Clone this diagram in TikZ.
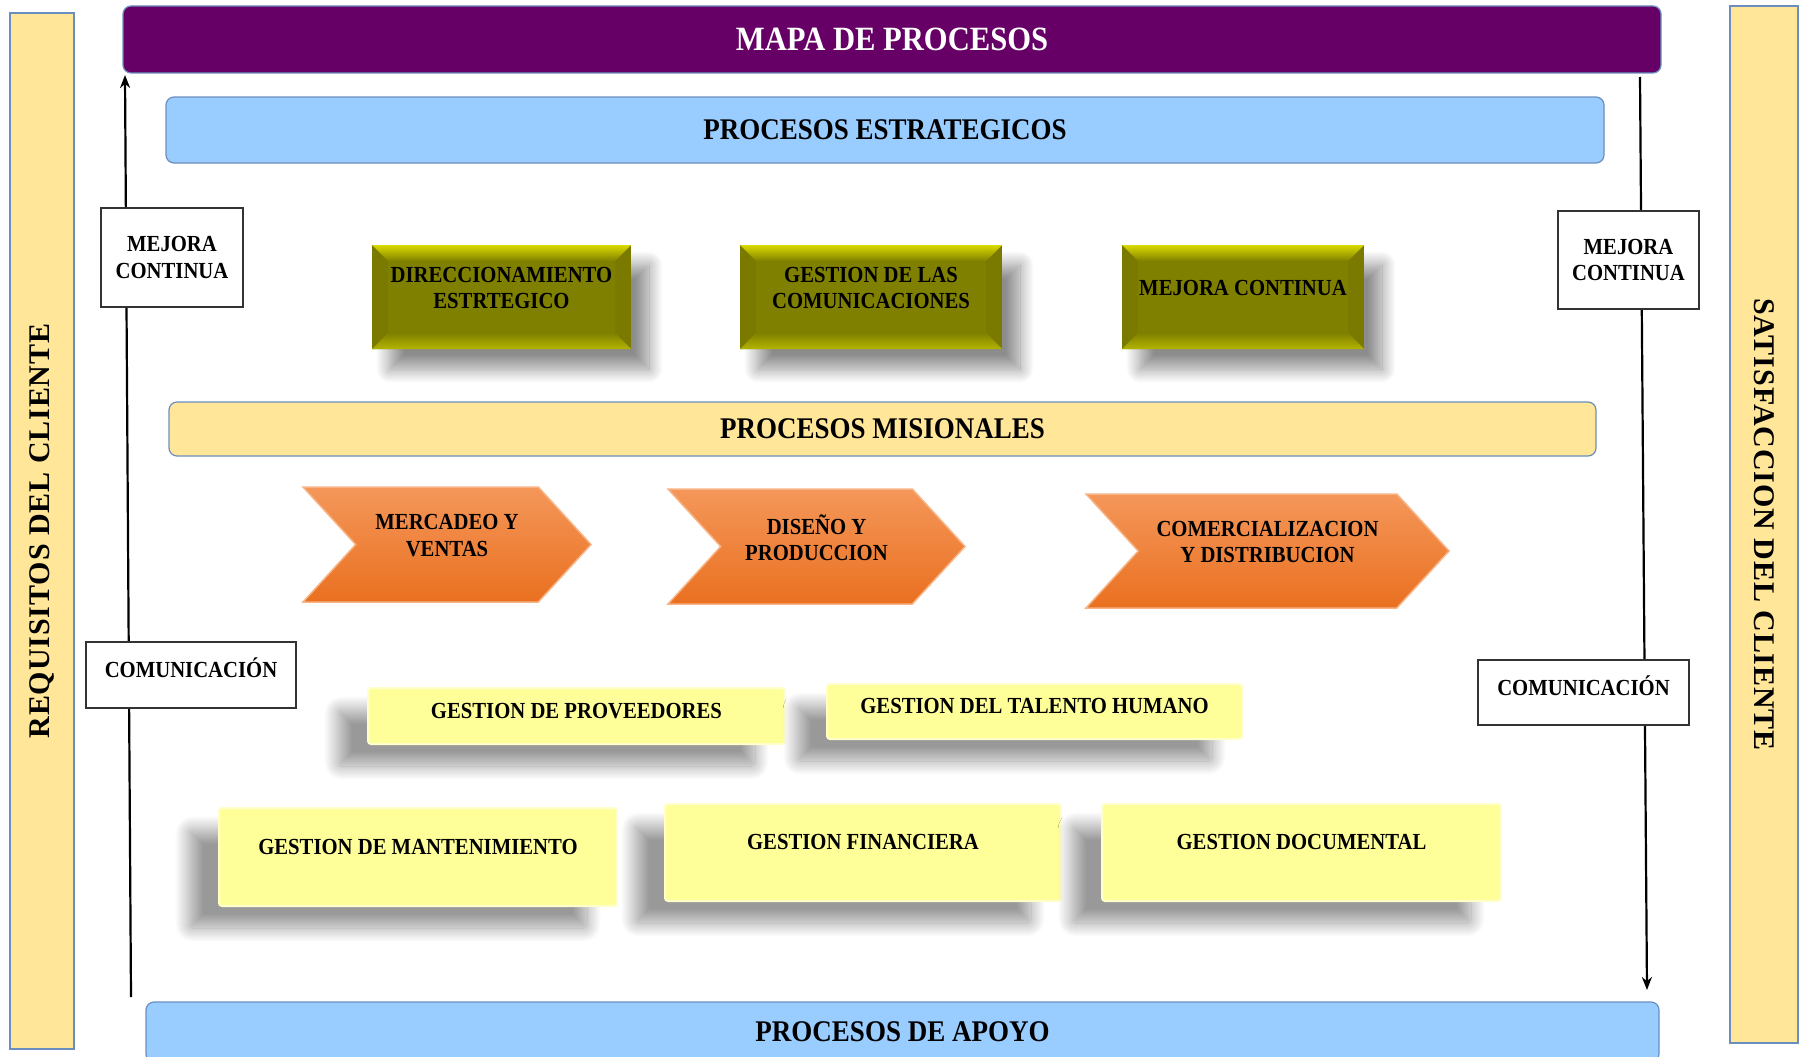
\documentclass[tikz,border=0pt]{standalone}
\usepackage{fontspec}
\setmainfont{Liberation Serif}[FakeStretch=0.9]
\newfontfamily\sidefont{Liberation Serif}[LetterSpace=3]
\usepackage{tikz}
\usetikzlibrary{arrows.meta, shapes.symbols, shadows.blur}

\definecolor{mapapurple}{HTML}{660066}
\definecolor{framecol}{HTML}{6C8EBF}
\definecolor{barblue}{HTML}{99CCFF}
\definecolor{baryellow}{HTML}{FFE699}
\definecolor{olivefill}{HTML}{808000}
\definecolor{olivetop}{HTML}{DADA00}
\definecolor{olivebot}{HTML}{B4B400}
\definecolor{oliveside}{HTML}{7A7A00}
\definecolor{orangetop}{HTML}{F4975A}
\definecolor{orangebot}{HTML}{EA7020}
\definecolor{orangeedge}{HTML}{F7B383}
\definecolor{supportfill}{HTML}{FFFF99}
\definecolor{supportedge}{HTML}{FFFFCC}

\begin{document}
\begin{tikzpicture}[
  x=1pt, y=-1pt,
  bar/.style={rectangle, draw=framecol, line width=1.2pt, rounded corners=8pt,
              font=\bfseries\fontsize{30}{32}\selectfont},
  sidebar/.style={rectangle, draw=framecol, fill=baryellow, line width=1.2pt,
                  font=\sidefont\bfseries\fontsize{30}{32}\selectfont},
  notebox/.style={rectangle, draw=black!80, fill=white, line width=1.2pt,
                  align=center, font=\bfseries\fontsize{23}{26.5}\selectfont},
  olivebox/.style={rectangle, fill=olivefill, minimum height=104pt, align=center,
                   text depth=18pt, font=\bfseries\fontsize{23}{26.5}\selectfont,
                   blur shadow={shadow xshift=18pt, shadow yshift=-20pt,
                                shadow blur radius=14pt, shadow blur steps=20,
                                shadow opacity=45},
                   path picture={
                     \fill[oliveside] (path picture bounding box.north west) rectangle
                       (path picture bounding box.south east);
                     \fill[top color=olivetop, bottom color=olivefill]
                       (path picture bounding box.north west) -- (path picture bounding box.north east)
                       -- ([shift={(-16pt,-16pt)}]path picture bounding box.north east)
                       -- ([shift={(16pt,-16pt)}]path picture bounding box.north west) -- cycle;
                     \fill[top color=olivefill, bottom color=olivebot]
                       (path picture bounding box.south west) -- (path picture bounding box.south east)
                       -- ([shift={(-16pt,16pt)}]path picture bounding box.south east)
                       -- ([shift={(16pt,16pt)}]path picture bounding box.south west) -- cycle;
                     \fill[olivefill] ([shift={(16pt,-16pt)}]path picture bounding box.north west) rectangle
                       ([shift={(-16pt,16pt)}]path picture bounding box.south east);
                   }},
  flow/.style={signal, signal from=west, signal to=east, signal pointer angle=95,
               top color=orangetop, bottom color=orangebot, draw=orangeedge,
               line width=1.5pt, align=center, inner sep=0pt, text depth=18pt,
               font=\bfseries\fontsize{23}{26.5}\selectfont},
  supportbox/.style={rectangle, rounded corners=3pt, fill=supportfill, draw=supportedge,
                     line width=2pt, align=center,
                     font=\bfseries\fontsize{23}{25}\selectfont,
                     blur shadow={shadow xshift=-30pt, shadow yshift=-22pt,
                                  shadow blur radius=14pt, shadow blur steps=20,
                                  shadow opacity=40}},
  arrow/.style={-{Stealth[length=13pt, width=10pt]}, line width=2.2pt}
]
\useasboundingbox (0,0) rectangle (1805,1057);
\clip (0,0) rectangle (1805,1057);

%% flow lines along both sides (drawn first, boxes sit on top)
\coordinate (lbot) at (131,997);
\coordinate (ltop) at (125,75);
\coordinate (rtop) at (1640,77);
\coordinate (rbot) at (1647,990);
\draw[arrow] (lbot) -- (ltop);
\draw[arrow] (rtop) -- (rbot);

%% client bars
\node[sidebar, rotate=90, minimum width=1036pt, minimum height=64pt] (req) at (42,531)
  {REQUISITOS DEL CLIENTE};
\node[sidebar, rotate=-90, minimum width=1037pt, minimum height=68pt] (sat) at (1764,524.5)
  {SATISFACCION DEL CLIENTE};

%% header and process bands
\node[bar, fill=mapapurple, text=white, minimum width=1538pt, minimum height=67pt,
      font=\bfseries\fontsize{34}{36}\selectfont] (mapa) at (892,39.5) {MAPA DE PROCESOS};
\node[bar, fill=barblue, minimum width=1438pt, minimum height=66pt] (estr) at (885,130)
  {PROCESOS ESTRATEGICOS};
\node[bar, fill=baryellow, minimum width=1427pt, minimum height=54pt] (mis) at (882.5,429)
  {PROCESOS MISIONALES};
\node[bar, fill=barblue, minimum width=1513pt, minimum height=60pt] (apoyo) at (902.5,1032)
  {PROCESOS DE APOYO};

%% side notes
\node[notebox, minimum width=142pt, minimum height=99pt] (mejL) at (172,257.5) {MEJORA\\CONTINUA};
\node[notebox, minimum width=141pt, minimum height=98pt] (mejR) at (1628.5,260) {MEJORA\\CONTINUA};
\node[notebox, minimum width=210pt, minimum height=66pt, text depth=14pt] (comL) at (191,675) {COMUNICACIÓN};
\node[notebox, minimum width=211pt, minimum height=65pt, text depth=14pt] (comR) at (1583.5,692.5) {COMUNICACIÓN};

%% strategic processes
\node[olivebox, minimum width=259pt] (direc) at (501.5,297) {DIRECCIONAMIENTO\\ESTRTEGICO};
\node[olivebox, minimum width=262pt] (gcom) at (871,297) {GESTION DE LAS\\COMUNICACIONES};
\node[olivebox, minimum width=242pt] (mejc) at (1243,297) {MEJORA CONTINUA};

%% mission processes
\node[flow, minimum width=288pt, minimum height=115pt] (merc) at (447,544.5) {MERCADEO Y\\VENTAS};
\node[flow, minimum width=297pt, minimum height=115pt] (dis) at (816.5,546.5) {DISEÑO Y\\PRODUCCION};
\node[flow, minimum width=363pt, minimum height=114pt] (comer) at (1267.5,551)
  {COMERCIALIZACION\\Y DISTRIBUCION};

%% support processes
\node[supportbox, minimum width=417pt, minimum height=56pt, text depth=11pt] (prov) at (576.5,716) {GESTION DE PROVEEDORES};
\node[supportbox, minimum width=415pt, minimum height=55pt, text depth=11pt] (tal) at (1034.5,711.5) {GESTION DEL TALENTO HUMANO};
\node[supportbox, minimum width=398pt, minimum height=98pt, text depth=20pt] (mant) at (418,857) {GESTION DE MANTENIMIENTO};
\node[supportbox, minimum width=396pt, minimum height=97pt, text depth=22pt] (fin) at (863,852.5) {GESTION FINANCIERA};
\node[supportbox, minimum width=399pt, minimum height=97pt, text depth=22pt] (doc) at (1301.5,852.5) {GESTION DOCUMENTAL};
\end{tikzpicture}
\end{document}
